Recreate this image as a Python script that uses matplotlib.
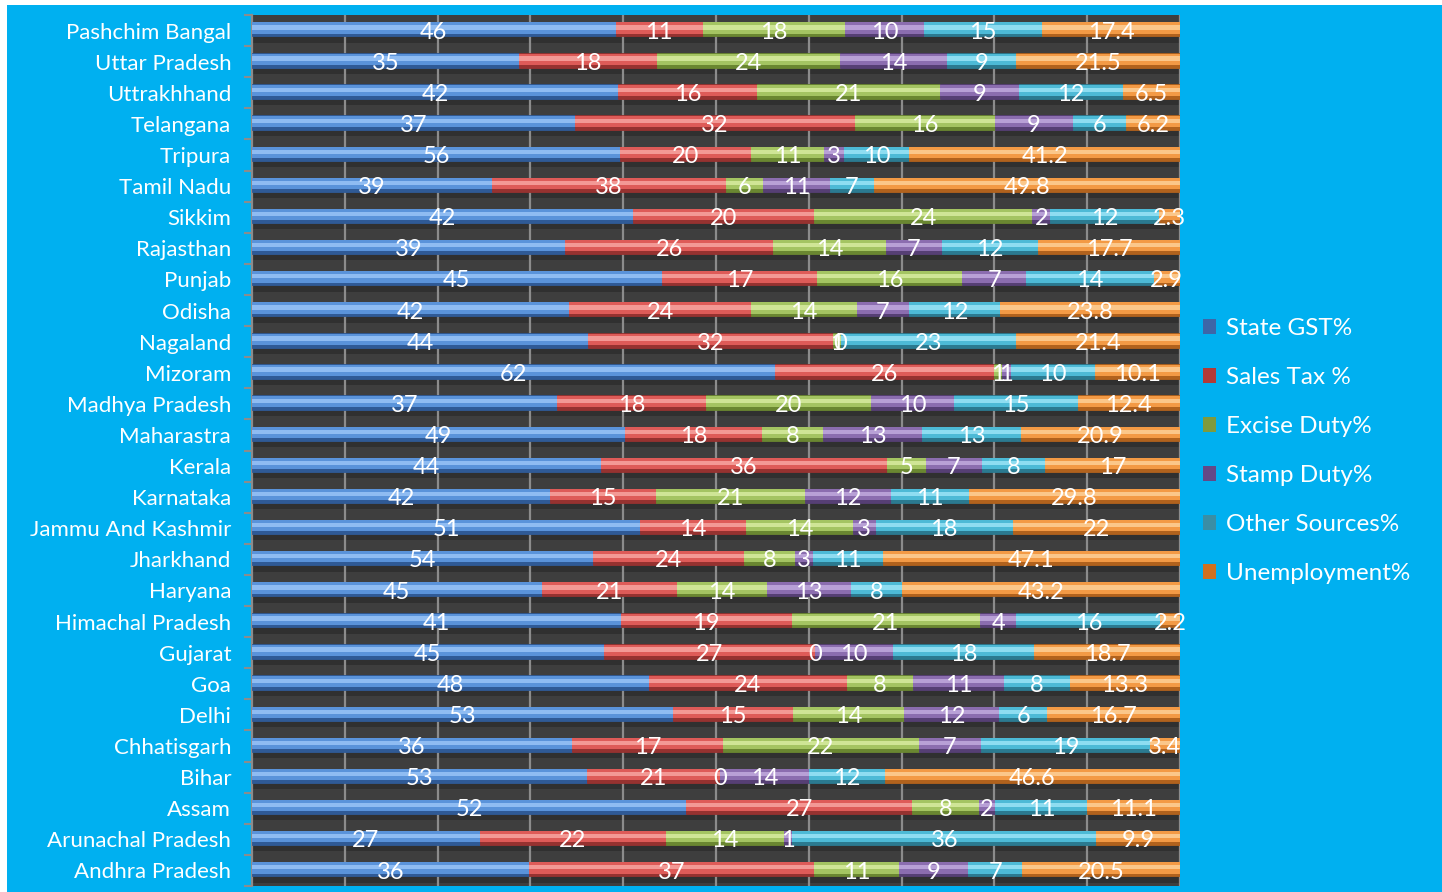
import matplotlib
matplotlib.use("Agg")
import matplotlib.pyplot as plt
from matplotlib.patches import Patch, Rectangle
import numpy as np

plt.rcParams['font.family'] = ['Lato', 'DejaVu Sans']

states = ["Pashchim Bangal", "Uttar Pradesh", "Uttrakhhand", "Telangana", "Tripura",
          "Tamil Nadu", "Sikkim", "Rajasthan", "Punjab", "Odisha", "Nagaland", "Mizoram",
          "Madhya Pradesh", "Maharastra", "Kerala", "Karnataka", "Jammu And Kashmir",
          "Jharkhand", "Haryana", "Himachal Pradesh", "Gujarat", "Goa", "Delhi",
          "Chhatisgarh", "Bihar", "Assam", "Arunachal Pradesh", "Andhra Pradesh"]

state_gst = [46, 35, 42, 37, 56, 39, 42, 39, 45, 42, 44, 62, 37, 49, 44, 42, 51, 54, 45, 41, 45, 48, 53, 36, 53, 52, 27, 36]
sales_tax = [11, 18, 16, 32, 20, 38, 20, 26, 17, 24, 32, 26, 18, 18, 36, 15, 14, 24, 21, 19, 27, 24, 15, 17, 21, 27, 22, 37]
excise = [18, 24, 21, 16, 11, 6, 24, 14, 16, 14, 1, 1, 20, 8, 5, 21, 14, 8, 14, 21, 0, 8, 14, 22, 0, 8, 14, 11]
stamp = [10, 14, 9, 9, 3, 11, 2, 7, 7, 7, 0, 1, 10, 13, 7, 12, 3, 3, 13, 4, 10, 11, 12, 7, 14, 2, 1, 9]
other = [15, 9, 12, 6, 10, 7, 12, 12, 14, 12, 23, 10, 15, 13, 8, 11, 18, 11, 8, 16, 18, 8, 6, 19, 12, 11, 36, 7]
unemp = [17.4, 21.5, 6.5, 6.2, 41.2, 49.8, 2.3, 17.7, 2.9, 23.8, 21.4, 10.1, 12.4, 20.9, 17, 29.8, 22, 47.1, 43.2, 2.2, 18.7, 13.3, 16.7, 3.4, 46.6, 11.1, 9.9, 20.5]

series_names = ["State GST%", "Sales Tax %", "Excise Duty%", "Stamp Duty%", "Other Sources%", "Unemployment%"]
series = [state_gst, sales_tax, excise, stamp, other, unemp]

# (main, highlight, dark)
palette = [("#5A93DA", "#8FBCF2", "#2F5A96"),
           ("#DE5B58", "#F39995", "#963230"),
           ("#A4C462", "#CFE596", "#6A8731"),
           ("#8B6DAF", "#B8A0D6", "#563F74"),
           ("#4DBAD6", "#8EDDF1", "#2B7A90"),
           ("#F39A45", "#FBC78A", "#B1621D")]
legend_colors = ["#3D66A8", "#B23A37", "#7E9A3E", "#644887", "#3A8EA5", "#D0701F"]

fig = plt.figure(figsize=(14.42, 8.92), dpi=100, facecolor="white")
fig.patches.append(Rectangle((7/1442, 0), 1 - 7/1442, 1 - 5/892, transform=fig.transFigure,
                             facecolor="#00B0F0", edgecolor="none", zorder=-10))

ax = fig.add_axes([252/1442, 1 - 886/892, 928/1442, 871/892])
ax.set_facecolor("#3E3E3E")

n = len(states)
y = np.arange(n)
data = np.array(series, dtype=float)
totals = data.sum(axis=0)
pct = data / totals * 100

# floor shadow bands
ax.barh(y + 0.29, 100, height=0.2, left=0, color="#303030", zorder=1)

for xg in range(10, 101, 10):
    ax.axvline(xg, color="#8C8C8C", lw=1.6, zorder=2)

left = np.zeros(n)
bh = 0.46
yc = y - 0.04
for k in range(len(series)):
    main, hi, dk = palette[k]
    w = pct[k]
    ax.barh(yc, w, height=bh, left=left, color=dk, edgecolor=dk, lw=0.6, zorder=3)
    ax.barh(yc - 0.04, w, height=bh * 0.78, left=left, color=main, lw=0, zorder=4)
    ax.barh(yc - 0.06, w, height=bh * 0.3, left=left, color=hi, lw=0, zorder=5)
    for i in range(n):
        ax.text(left[i] + w[i] / 2, y[i] + 0.05, f"{series[k][i]:g}", color="white",
                ha="center", va="center", fontsize=17, zorder=10)
    left += w

ax.set_xlim(0, 100)
ax.set_ylim(n - 0.5, -0.5)
ax.set_xticks([])
ax.set_yticks(np.arange(-0.5, n, 1.0))
ax.set_yticklabels([])
ax.set_yticks(y, minor=True)
ax.set_yticklabels(states, minor=True, color="white", fontsize=16)
ax.tick_params(axis="y", which="major", length=6, width=1.5, color="#8C8C8C")
ax.tick_params(axis="y", which="minor", length=0, pad=15)
for s in ["top", "bottom", "right"]:
    ax.spines[s].set_visible(False)
ax.spines["left"].set_color("#8C8C8C")
ax.spines["left"].set_linewidth(1.6)

handles = [Patch(facecolor=legend_colors[k], edgecolor="none") for k in range(6)]
fig.legend(handles, series_names, loc="center left", bbox_to_anchor=(1203/1442, 1 - 451/892),
           frameon=False, labelcolor="white", fontsize=17.5, handlelength=0.55, handleheight=0.55,
           handletextpad=0.4, labelspacing=1.15, borderpad=0, borderaxespad=0)

fig.savefig("out.png", dpi=100, facecolor="white")
